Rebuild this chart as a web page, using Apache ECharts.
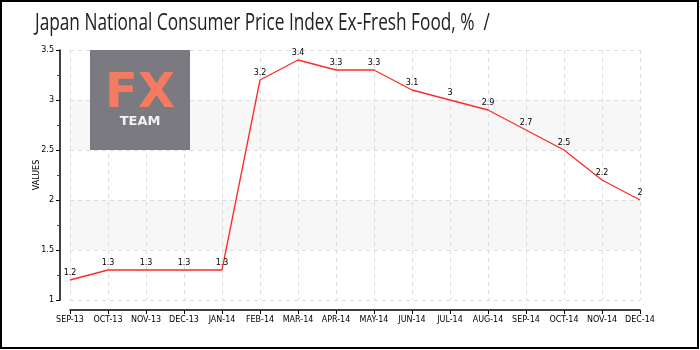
<!DOCTYPE html>
<html>
<head>
<meta charset="utf-8">
<script src="https://cdn.jsdelivr.net/npm/echarts@6/dist/echarts.min.js"></script>
<style>
  body { margin: 0; background: #fff; }
  #chart { width: 700px; height: 350px; }
</style>
</head>
<body>
<div id="chart"></div>
<script>
// months on the x axis
var months = ['SEP-13', 'OCT-13', 'NOV-13', 'DEC-13', 'JAN-14', 'FEB-14', 'MAR-14', 'APR-14',
  'MAY-14', 'JUN-14', 'JUL-14', 'AUG-14', 'SEP-14', 'OCT-14', 'NOV-14', 'DEC-14']
// CPI ex-fresh food, %
var cpiValues = [1.2, 1.3, 1.3, 1.3, 1.3, 3.2, 3.4, 3.3, 3.3, 3.1, 3, 2.9, 2.7, 2.5, 2.2, 2]
var yMin = 1
var yMax = 3.5
var yStep = 0.5
var titleText = 'Japan National Consumer Price Index Ex-Fresh Food, %  /'

var chart = echarts.init(document.getElementById('chart'))
var smallFont = 'DejaVu Sans'

var option = {
  animation: false,
  grid: { left: 70, right: 60, top: 50, bottom: 50 },
  graphic: [
    {
      // frame round the picture
      type: 'rect',
      shape: { x: 1, y: 1, width: 697, height: 347 },
      style: { fill: 'none', stroke: '#000', lineWidth: 2 },
      z: 100
    },
    {
      // title, squeezed to look like the narrow font of the original
      type: 'text',
      x: 35,
      y: 23,
      scaleX: 0.75,
      style: {
        text: titleText,
        fill: '#222',
        font: '23px "Open Sans", sans-serif',
        verticalAlign: 'middle'
      }
    },
    {
      // logo box
      type: 'rect',
      shape: { x: 90, y: 50, width: 100, height: 100 },
      style: { fill: '#7b7a80' },
      z: 3
    },
    {
      type: 'text',
      x: 140, y: 95,
      z: 4,
      style: { text: 'FX', fill: '#f47a60', font: 'bold 48px "DejaVu Sans"', align: 'center', verticalAlign: 'middle' }
    },
    {
      type: 'text',
      x: 140, y: 122,
      z: 4,
      style: { text: 'TEAM', fill: '#f2f2f2', font: 'bold 13px "DejaVu Sans"', align: 'center', verticalAlign: 'middle' }
    }
  ],
  xAxis: {
    type: 'category',
    data: months,
    boundaryGap: false,
    offset: 10,
    axisLine: { lineStyle: { color: '#000', width: 1.5 } },
    axisTick: { alignWithLabel: true, length: 4, lineStyle: { color: '#000' } },
    axisLabel: { color: '#000', fontSize: 8, fontFamily: smallFont, margin: 6, interval: 0 },
    splitLine: { show: true, lineStyle: { color: '#ddd', type: [4, 4] } }
  },
  yAxis: {
    type: 'value',
    min: yMin,
    max: yMax,
    interval: yStep,
    offset: 10,
    name: 'VALUES',
    nameLocation: 'middle',
    nameGap: 19,
    nameMoveOverlap: false,
    nameTextStyle: { color: '#000', fontSize: 8, fontFamily: smallFont },
    axisLine: { show: true, lineStyle: { color: '#000', width: 1.5 } },
    axisTick: { show: true, length: 4, lineStyle: { color: '#000' } },
    minorTick: { show: true, splitNumber: 2, length: 3, lineStyle: { color: '#e00' } },
    axisLabel: { color: '#000', fontSize: 8, fontFamily: smallFont, margin: 6 },
    splitLine: { show: true, lineStyle: { color: '#ddd', type: [4, 4] } },
    splitArea: { show: true, areaStyle: { color: ['rgba(0,0,0,0)', '#f7f7f7'] } }
  },
  series: [
    {
      name: 'CPI',
      type: 'line',
      data: cpiValues,
      symbol: 'circle',
      symbolSize: 2,
      showSymbol: true,
      itemStyle: { color: 'rgba(255,42,42,0)', borderWidth: 0 },
      z: 5,
      lineStyle: { color: '#ff2a2a', width: 1.3 },
      label: {
        show: true,
        position: 'top',
        distance: 2,
        color: '#000',
        fontSize: 8,
        fontFamily: smallFont
      }
    }
  ]
}

chart.setOption(option)
</script>
</body>
</html>
